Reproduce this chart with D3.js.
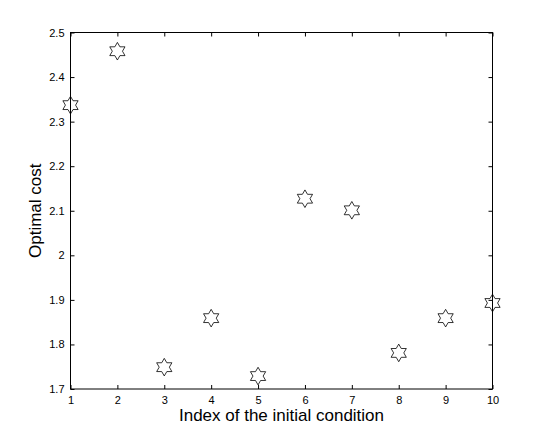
<!DOCTYPE html>
<html>
<head>
<meta charset="utf-8">
<script src="https://cdn.jsdelivr.net/npm/d3@7"></script>
<style>
  body { margin: 0; background: #fff; }
  text { font-family: 'Liberation Sans', Arial, Helvetica, sans-serif; fill: #000; }
</style>
</head>
<body>
<div id='chart'></div>

<script>
  // indices of the initial conditions and the optimal cost found for each
  var indices = [1, 2, 3, 4, 5, 6, 7, 8, 9, 10]
  var costs = [2.337, 2.458, 1.749, 1.859, 1.729, 2.127, 2.101, 1.781, 1.859, 1.893]
  var yTicks = [1.7, 1.8, 1.9, 2, 2.1, 2.2, 2.3, 2.4, 2.5]

  var width = 545, height = 438
  var margin = {left: 70.5, right: 52.5, top: 32.5, bottom: 49}

  var svg = d3.select('#chart')
              .append('svg')
              .attr('width', width)
              .attr('height', height)

  var x = d3.scaleLinear()
            .domain([1, 10])
            .range([margin.left, width - margin.right])

  var y = d3.scaleLinear()
            .domain([1.7, 2.5])
            .range([height - margin.bottom, margin.top])

  // box
  svg.append('rect')
     .attr('x', x(1))
     .attr('y', y(2.5))
     .attr('width', x(10) - x(1))
     .attr('height', y(1.7) - y(2.5))
     .attr('fill', 'none')
     .attr('stroke', '#000')
     .attr('stroke-width', 1)

  // inward ticks, matlab style, on all four sides
  var bottomAxis = d3.axisBottom(x).tickValues(indices).tickSizeInner(-4).tickSizeOuter(0).tickPadding(7)
  var topAxis = d3.axisTop(x).tickValues(indices).tickSizeInner(-4).tickSizeOuter(0).tickFormat('')
  var leftAxis = d3.axisLeft(y).tickValues(yTicks).tickSizeInner(-4).tickSizeOuter(0).tickPadding(6).tickFormat(d3.format('~g'))
  var rightAxis = d3.axisRight(y).tickValues(yTicks).tickSizeInner(-4).tickSizeOuter(0).tickFormat('')

  function style(g) {
    g.select('.domain').remove()
    g.selectAll('text').attr('font-size', 11).attr('fill', '#000')
      .style('font-family', "'Liberation Sans', Arial, sans-serif")
    g.selectAll('line').attr('stroke', '#000')
  }

  svg.append('g').attr('transform', 'translate(0,' + y(1.7) + ')').call(bottomAxis).call(style)
  svg.append('g').attr('transform', 'translate(0,' + y(2.5) + ')').call(topAxis).call(style)
  svg.append('g').attr('transform', 'translate(' + x(1) + ',0)').call(leftAxis).call(style)
  svg.append('g').attr('transform', 'translate(' + x(10) + ',0)').call(rightAxis).call(style)

  // hexagram markers
  function hexagram(r) {
    var pts = []
    for (var i = 0; i < 12; i++) {
      var a = -Math.PI / 2 + i * Math.PI / 6
      var rr = (i % 2 === 0) ? r : r / Math.sqrt(3)
      pts.push([rr * Math.cos(a), rr * Math.sin(a)])
    }
    return 'M' + pts.map(function(p) { return p[0].toFixed(2) + ',' + p[1].toFixed(2) }).join('L') + 'Z'
  }

  svg.selectAll('path.star')
     .data(indices)
     .enter()
     .append('path')
     .classed('star', true)
     .attr('d', hexagram(8.8))
     .attr('transform', function(d, i) {
       return 'translate(' + x(d) + ',' + y(costs[i]) + ')'
     })
     .attr('fill', 'none')
     .attr('stroke', '#000')
     .attr('stroke-width', 0.8)

  // axis labels
  svg.append('text')
     .attr('x', (x(1) + x(10)) / 2)
     .attr('y', 421)
     .attr('text-anchor', 'middle')
     .attr('font-size', 17)
     .text('Index of the initial condition')

  svg.append('text')
     .attr('transform', 'translate(41,' + ((y(1.7) + y(2.5)) / 2) + ') rotate(-90)')
     .attr('text-anchor', 'middle')
     .attr('font-size', 17)
     .text('Optimal cost')
</script>
</body>
</html>
